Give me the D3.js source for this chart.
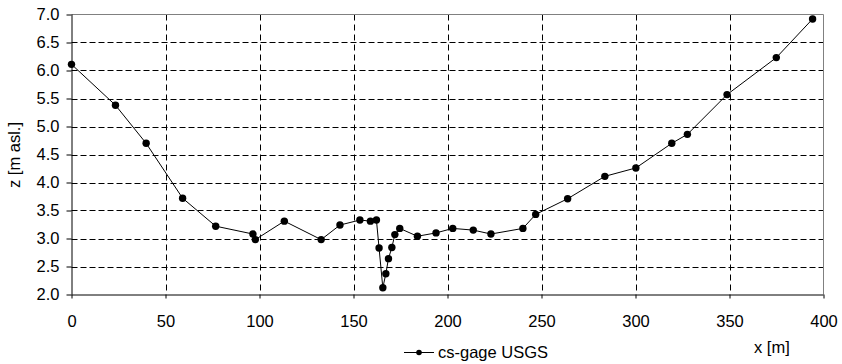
<!DOCTYPE html>
<html><head><meta charset="utf-8">
<script src="https://cdn.jsdelivr.net/npm/d3@7"></script>
<style>
body{margin:0;background:#fff;}
text{font-family:"Liberation Sans",Arial,sans-serif;fill:#000;}
</style></head>
<body><svg id="c" width="842" height="364"></svg>
<script>
const xData = [0, 23.4, 39.7, 59.1, 76.7, 96.5, 97.8, 113.2, 132.8, 142.8, 153.4, 159.0, 162.2, 163.6, 165.6, 167.2, 168.6, 170.4, 172.0, 174.6, 184.0, 193.9, 202.8, 213.7, 223.1, 240.1, 246.9, 263.9, 283.7, 300.2, 319.3, 327.6, 348.7, 374.9, 394.2];
const zData = [6.11, 5.38, 4.70, 3.72, 3.22, 3.08, 2.98, 3.31, 2.98, 3.24, 3.33, 3.31, 3.33, 2.83, 2.12, 2.37, 2.64, 2.84, 3.07, 3.18, 3.04, 3.10, 3.18, 3.15, 3.08, 3.18, 3.43, 3.71, 4.11, 4.26, 4.70, 4.86, 5.57, 6.23, 6.92];
const xTicks = [0, 50, 100, 150, 200, 250, 300, 350, 400];
const yTicks = [2.0, 2.5, 3.0, 3.5, 4.0, 4.5, 5.0, 5.5, 6.0, 6.5, 7.0];
const seriesName = "cs-gage USGS";
const xTitle = "x [m]";
const yTitle = "z [m asl.]";

const svg = d3.select("#c");
const L = 71.5, R = 823.5, T = 14.5, B = 294.5;
const x = d3.scaleLinear().domain([0, 400]).range([L, R]);
const y = d3.scaleLinear().domain([2, 7]).range([B, T]);

// grid
const g = svg.append("g");
g.selectAll("line.h").data(yTicks.filter(v => v > 2 && v < 7)).join("line")
  .attr("x1", L).attr("x2", R).attr("y1", d => Math.round(y(d)) + 0.5).attr("y2", d => Math.round(y(d)) + 0.5)
  .attr("stroke", "#000").attr("stroke-width", 1).attr("stroke-dasharray", "6,3");
g.selectAll("line.v").data(xTicks.filter(v => v > 0 && v < 400)).join("line")
  .attr("y1", T).attr("y2", B).attr("x1", d => Math.round(x(d)) + 0.5).attr("x2", d => Math.round(x(d)) + 0.5)
  .attr("stroke", "#000").attr("stroke-width", 1).attr("stroke-dasharray", "6,4");

// frame top/right
svg.append("path").attr("d", `M${L},${T}H${R}V${B}`).attr("fill", "none").attr("stroke", "#808080");

// axes
const xAxis = d3.axisBottom(x).tickValues(xTicks).tickSize(4).tickPadding(17).tickFormat(d3.format("d"));
const ax = svg.append("g").attr("transform", `translate(0,${B})`).call(xAxis);
const yAxis = d3.axisLeft(y).tickValues(yTicks).tickSize(5).tickPadding(7).tickFormat(d3.format(".1f"));
const ay = svg.append("g").attr("transform", `translate(${L},0)`).call(yAxis);
[ax, ay].forEach(a => {
  a.select(".domain").attr("stroke", "#000");
  a.selectAll(".tick line").attr("stroke", "#000");
  a.selectAll("text").attr("font-size", 16.5).attr("font-family", "Liberation Sans, Arial, sans-serif").attr("fill", "#000");
});
ay.select(".domain").attr("d", `M0.5,${T}V${B}`);
ax.select(".domain").attr("d", `M${L},0.5H${R}`);

// line + points
const pts = xData.map((v, i) => [v, zData[i]]);
svg.append("path").datum(pts).attr("fill", "none").attr("stroke", "#000").attr("stroke-width", 1)
  .attr("d", d3.line().x(d => x(d[0])).y(d => y(d[1])));
svg.selectAll("circle.p").data(pts).join("circle")
  .attr("cx", d => x(d[0])).attr("cy", d => y(d[1])).attr("r", 3.7).attr("fill", "#000");

// titles
svg.append("text").attr("x", 754).attr("y", 353).attr("font-size", 16.5).text(xTitle);
svg.append("text").attr("transform", "translate(20,155) rotate(-90)").attr("text-anchor", "middle")
  .attr("font-size", 16.5).text(yTitle);

// legend
svg.append("line").attr("x1", 404).attr("x2", 434).attr("y1", 352.5).attr("y2", 352.5).attr("stroke", "#000");
svg.append("circle").attr("cx", 419).attr("cy", 352.5).attr("r", 2.8).attr("fill", "#000");
svg.append("text").attr("x", 438).attr("y", 358).attr("font-size", 16.5).text(seriesName);
</script></body></html>
